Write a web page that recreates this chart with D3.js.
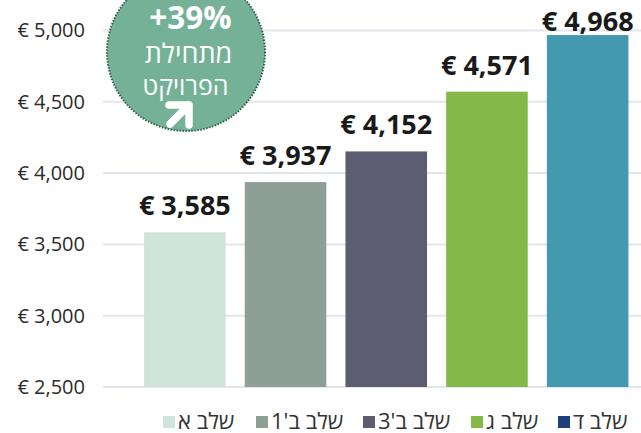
<!DOCTYPE html>
<html><head><meta charset="utf-8">
<script src="https://cdn.jsdelivr.net/npm/d3@7/dist/d3.min.js"></script>
<style>html,body{margin:0;padding:0;background:#fff;overflow:hidden}svg{display:block;font-family:"Open Sans",sans-serif}</style>
</head><body><div id="c"></div>
<script>
const categories = ["שלב א","שלב ב'1","שלב ב'3","שלב ג","שלב ד"];
const values = [3585,3937,4152,4571,4968];
const barColors = ["#cfe5da","#8d9f96","#5d5d72","#84b94a","#4399b0"];
const legendSwatches = ["#cfe5da","#8d9f96","#5d5d72","#84b94a","#1f3f7a"];
const legendLabels = ["שלב א","שלב ב'1","שלב ב'3","שלב ג","שלב ד"];
const yTicks = [2500,3000,3500,4000,4500,5000];
const badgeLines = ["+39%","מתחילת","הפרויקט"];

const W=641,H=433;
const svg=d3.select("#c").append("svg").attr("width",W).attr("height",H);
const y=d3.scaleLinear().domain([2500,5000]).range([387,30.5]);
const x=d3.scaleBand().domain(categories).range([134.5,638]).paddingInner(0.19).paddingOuter(0.095);

const fmt=d3.format(",");
const axis=d3.axisLeft(y).tickValues(yTicks).tickSize(0).tickPadding(18).tickFormat(d=>"€ "+fmt(d));
const gy=svg.append("g").attr("transform","translate(103,0)").call(axis);
gy.select(".domain").remove();
gy.selectAll("text").attr("font-size",20).attr("fill","#2b2b2b").attr("font-family",'"Open Sans",sans-serif');

svg.append("g").selectAll("line").data(yTicks).join("line")
 .attr("x1",103).attr("x2",641).attr("y1",d=>y(d)).attr("y2",d=>y(d))
 .attr("stroke","#e3e6ec").attr("stroke-width",2);

svg.append("g").selectAll("rect").data(values).join("rect")
 .attr("x",(d,i)=>x(categories[i])).attr("width",x.bandwidth())
 .attr("y",d=>y(d)).attr("height",d=>y(2500)-y(d))
 .attr("fill",(d,i)=>barColors[i]);

svg.append("g").selectAll("text").data(values).join("text")
 .attr("x",(d,i)=>x(categories[i])+x.bandwidth()/2).attr("y",d=>Math.max(y(d)-17,31))
 .attr("text-anchor","middle").attr("font-size",27).attr("font-weight",700).attr("fill","#1a1a1a")
 .text(d=>"€ "+fmt(d));

// badge
const b=svg.append("g");
b.append("circle").attr("cx",186).attr("cy",52).attr("r",79).attr("fill","#75b196")
 .attr("stroke","#2f5f4c").attr("stroke-width",2).attr("stroke-dasharray","1.5 1.5");
b.append("text").attr("x",190.5).attr("y",29).attr("text-anchor","middle").attr("font-size",31.5).attr("font-weight",700).attr("fill","#fff").text(badgeLines[0]);
b.append("text").attr("x",188.5).attr("y",63).attr("text-anchor","middle").attr("font-size",27).attr("fill","#fff").attr("direction","rtl").text(badgeLines[1]);
b.append("text").attr("x",185.5).attr("y",95).attr("text-anchor","middle").attr("font-size",25).attr("fill","#fff").attr("direction","rtl").text(badgeLines[2]);
// arrow
b.append("path").attr("d","M169 105H189V125M189 105L170 124").attr("fill","none").attr("stroke","#fff").attr("stroke-width",7.5).attr("stroke-linejoin","round").attr("stroke-linecap","round");

// legend
const swX=[163,256,363,471,558];
const lg=svg.append("g");
legendLabels.forEach((t,i)=>{
 lg.append("rect").attr("x",swX[i]).attr("y",416).attr("width",12).attr("height",12).attr("fill",legendSwatches[i]);
 lg.append("text").attr("x",swX[i]+15).attr("y",428.5).attr("font-size",22).attr("fill","#333").attr("direction","ltr").attr("unicode-bidi","plaintext").text(t);
});
</script></body></html>
